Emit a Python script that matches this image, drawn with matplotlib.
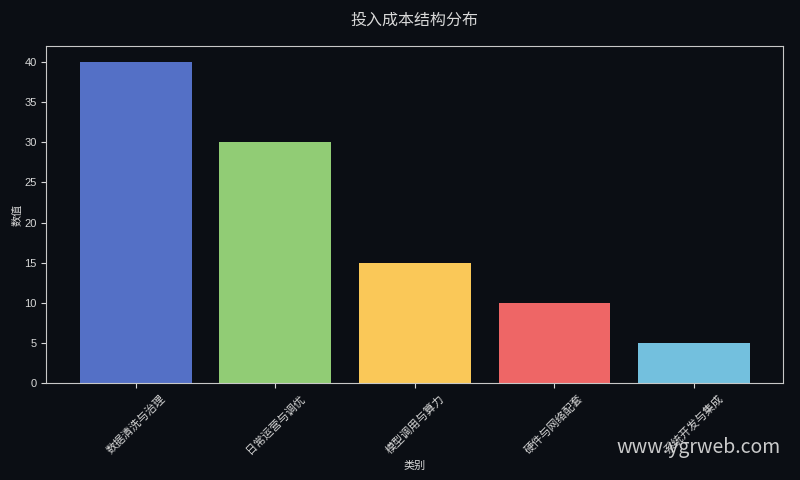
import matplotlib
matplotlib.use('Agg')
import matplotlib.pyplot as plt

plt.rcParams['font.family'] = ['Noto Sans CJK SC', 'DejaVu Sans']

categories = ['数据清洗与治理', '日常运营与调优', '模型调用与算力', '硬件与网络配套', '系统开发与集成']
values = [40, 30, 15, 10, 5]
colors = ['#5470c6', '#91cc75', '#fac858', '#ee6666', '#73c0de']

bg = '#0b0e14'
fg = '#d8d8d8'

fig, ax = plt.subplots(figsize=(8, 4.8), dpi=100)
fig.patch.set_facecolor(bg)
ax.set_facecolor(bg)

ax.bar(categories, values, color=colors, width=0.8, linewidth=0)

ax.set_title('投入成本结构分布', color=fg, fontsize=11.5, pad=15)
ax.set_xlabel('类别', color=fg, fontsize=8)
ax.set_ylabel('数值', color=fg, fontsize=8, labelpad=1.5)
ax.tick_params(colors=fg, labelsize=8)
plt.setp(ax.get_xticklabels(), rotation=45)
for lbl in ax.get_yticklabels():
    lbl.set_family(['Liberation Sans', 'DejaVu Sans'])
for s in ax.spines.values():
    s.set_color('#c8c8c8')

fig.subplots_adjust(left=0.058, right=0.979, top=0.904, bottom=0.202)
fig.text(0.976, 0.067, 'www.ygrweb.com', color='#e0e0e0', fontsize=14,
         ha='right', va='center', alpha=0.9)

plt.savefig('out.png', facecolor=bg)
